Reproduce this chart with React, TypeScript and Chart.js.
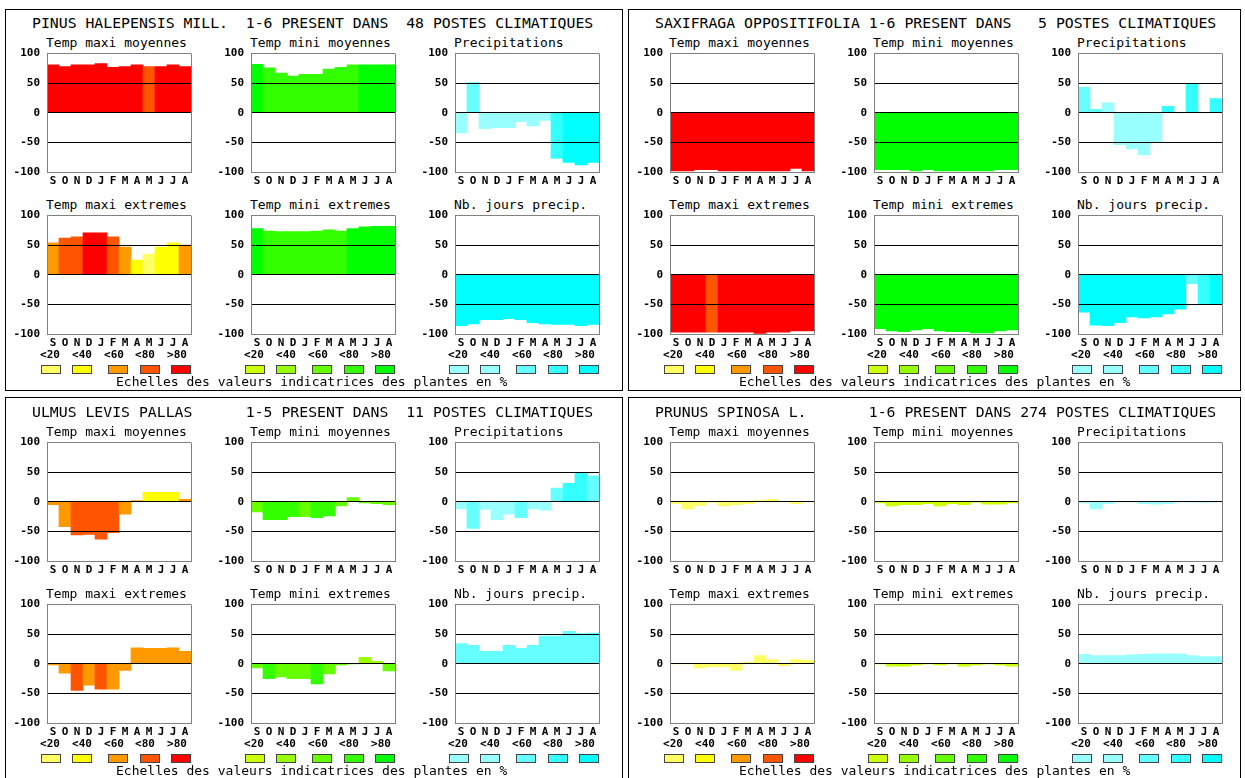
import React, { useEffect, useRef } from 'react';
import { Chart, registerables } from 'chart.js';

Chart.register(...registerables);

// ---------- shared labels / scales ----------
const MONTHS = ['S', 'O', 'N', 'D', 'J', 'F', 'M', 'A', 'M', 'J', 'J', 'A'];
const Y_TICKS = [-100, -50, 0, 50, 100];
const LEVEL_LABELS = ['<20', '<40', '<60', '<80', '>80'];
const RED_SCALE = ['#FFFF66', '#FFFF00', '#FF9900', '#FF5500', '#FF0000'];
const GREEN_SCALE = ['#CCFF00', '#99FF00', '#66FF00', '#33FF00', '#00FF00'];
const CYAN_SCALE = ['#99FFFF', '#99FFFF', '#66FFFF', '#33FFFF', '#00FFFF'];
const CHART_TITLES = [
  'Temp maxi moyennes',
  'Temp mini moyennes',
  'Precipitations',
  'Temp maxi extremes',
  'Temp mini extremes',
  'Nb. jours precip.',
];
const SCALE_CAPTION = 'Echelles des valeurs indicatrices des plantes en %';

// ---------- species ----------
const SPECIES_NAMES = ['PINUS HALEPENSIS MILL.', 'SAXIFRAGA OPPOSITIFOLIA', 'ULMUS LEVIS PALLAS', 'PRUNUS SPINOSA L.'];
const SPECIES_RANGES = ['1-6', '1-6', '1-5', '1-6'];
const SPECIES_STATIONS = [48, 5, 11, 274];

// ---------- PINUS HALEPENSIS ----------
const PINUS_TMAX_MOY = [81, 78, 81, 81, 83, 77, 78, 81, 78, 78, 81, 78];
const PINUS_TMAX_MOY_LVL = [4, 4, 4, 4, 4, 4, 4, 4, 3, 4, 4, 4];
const PINUS_TMIN_MOY = [82, 76, 67, 62, 65, 65, 74, 77, 81, 81, 81, 81];
const PINUS_TMIN_MOY_LVL = [4, 3, 3, 3, 3, 3, 3, 3, 3, 4, 4, 4];
const PINUS_PRECIP = [-34, 51, -27, -25, -25, -15, -22, -13, -77, -84, -88, -84];
const PINUS_PRECIP_LVL = [0, 2, 0, 0, 0, 0, 0, 0, 3, 4, 4, 4];
const PINUS_TMAX_EXT = [54, 62, 64, 71, 71, 64, 47, 25, 35, 47, 54, 50];
const PINUS_TMAX_EXT_LVL = [2, 3, 3, 4, 4, 3, 2, 1, 0, 1, 1, 2];
const PINUS_TMIN_EXT = [78, 74, 73, 73, 73, 74, 76, 74, 78, 81, 82, 82];
const PINUS_TMIN_EXT_LVL = [4, 3, 3, 3, 3, 3, 3, 3, 4, 4, 4, 4];
const PINUS_NB_JOURS = [-86, -83, -76, -76, -74, -76, -81, -83, -84, -84, -86, -84];
const PINUS_NB_JOURS_LVL = [4, 4, 4, 4, 4, 4, 4, 4, 4, 4, 4, 4];

// ---------- SAXIFRAGA OPPOSITIFOLIA ----------
const SAXI_TMAX_MOY = [-98, -98, -96, -96, -98, -98, -98, -98, -98, -98, -94, -98];
const SAXI_TMAX_MOY_LVL = [4, 4, 4, 4, 4, 4, 4, 4, 4, 4, 4, 4];
const SAXI_TMIN_MOY = [-96, -96, -96, -98, -96, -98, -98, -98, -98, -98, -96, -96];
const SAXI_TMIN_MOY_LVL = [4, 4, 4, 4, 4, 4, 4, 4, 4, 4, 4, 4];
const SAXI_PRECIP = [43, 6, 17, -54, -61, -71, -50, 11, 0, 48, 0, 24];
const SAXI_PRECIP_LVL = [2, 2, 0, 0, 0, 0, 0, 3, 0, 3, 0, 3];
const SAXI_TMAX_EXT = [-97, -97, -97, -97, -97, -97, -97, -99, -97, -97, -95, -95];
const SAXI_TMAX_EXT_LVL = [4, 4, 4, 3, 4, 4, 4, 4, 4, 4, 4, 4];
const SAXI_TMIN_EXT = [-91, -95, -96, -93, -91, -95, -96, -96, -98, -98, -95, -93];
const SAXI_TMIN_EXT_LVL = [4, 4, 4, 4, 4, 4, 4, 4, 4, 4, 4, 4];
const SAXI_NB_JOURS = [-63, -85, -86, -81, -71, -73, -71, -66, -58, -15, -50, -49];
const SAXI_NB_JOURS_LVL = [4, 4, 4, 4, 4, 4, 4, 4, 4, 2, 3, 4];

// ---------- ULMUS LEVIS ----------
const ULMUS_TMAX_MOY = [-5, -42, -56, -55, -63, -52, -21, 2, 16, 16, 16, 4];
const ULMUS_TMAX_MOY_LVL = [2, 2, 3, 3, 3, 3, 2, 2, 1, 1, 1, 2];
const ULMUS_TMIN_MOY = [-17, -30, -30, -25, -25, -27, -24, -7, 7, -2, -3, -5];
const ULMUS_TMIN_MOY_LVL = [2, 3, 3, 3, 2, 3, 3, 2, 2, 2, 2, 2];
const ULMUS_PRECIP = [-12, -45, -13, -30, -21, -27, -12, -14, 23, 31, 49, 44];
const ULMUS_PRECIP_LVL = [0, 2, 0, 0, 0, 2, 0, 0, 2, 3, 3, 2];
const ULMUS_TMAX_EXT = [-2, -16, -45, -36, -43, -43, -11, 27, 26, 26, 27, 21];
const ULMUS_TMAX_EXT_LVL = [2, 2, 3, 2, 3, 2, 2, 2, 2, 2, 2, 2];
const ULMUS_TMIN_EXT = [-7, -25, -22, -25, -25, -34, -17, -2, 0, 11, 4, -12];
const ULMUS_TMIN_EXT_LVL = [2, 3, 2, 2, 2, 3, 2, 2, 2, 1, 1, 2];
const ULMUS_NB_JOURS = [34, 31, 21, 21, 31, 26, 31, 47, 47, 55, 51, 52];
const ULMUS_NB_JOURS_LVL = [2, 2, 2, 2, 2, 2, 2, 2, 2, 2, 2, 2];

// ---------- PRUNUS SPINOSA ----------
const PRUNUS_TMAX_MOY = [-3, -12, -6, -1, -7, -5, -3, 2, 4, 0, -3, 0];
const PRUNUS_TMAX_MOY_LVL = [0, 0, 0, 0, 0, 0, 0, 0, 0, 0, 0, 0];
const PRUNUS_TMIN_MOY = [-2, -7, -5, -5, -3, -7, -3, -5, -1, -4, -4, -2];
const PRUNUS_TMIN_MOY_LVL = [0, 0, 0, 0, 0, 0, 0, 0, 0, 0, 0, 0];
const PRUNUS_PRECIP = [-2, -12, -3, 0, 0, -3, -4, -3, 0, 0, -1, 0];
const PRUNUS_PRECIP_LVL = [0, 0, 0, 0, 0, 0, 0, 0, 0, 0, 0, 0];
const PRUNUS_TMAX_EXT = [0, 0, -7, -5, -5, -11, 3, 14, 7, -3, 7, 6];
const PRUNUS_TMAX_EXT_LVL = [0, 0, 0, 0, 0, 0, 0, 0, 0, 0, 0, 0];
const PRUNUS_TMIN_EXT = [0, -4, -4, -2, 0, -2, 0, -4, -2, 0, -2, -4];
const PRUNUS_TMIN_EXT_LVL = [0, 0, 0, 0, 0, 0, 0, 0, 0, 0, 0, 0];
const PRUNUS_NB_JOURS = [16, 14, 14, 14, 15, 16, 17, 17, 17, 14, 12, 12];
const PRUNUS_NB_JOURS_LVL = [0, 0, 0, 0, 0, 0, 0, 0, 0, 0, 0, 0];

const SPECIES_SERIES = [
  [PINUS_TMAX_MOY, PINUS_TMIN_MOY, PINUS_PRECIP, PINUS_TMAX_EXT, PINUS_TMIN_EXT, PINUS_NB_JOURS],
  [SAXI_TMAX_MOY, SAXI_TMIN_MOY, SAXI_PRECIP, SAXI_TMAX_EXT, SAXI_TMIN_EXT, SAXI_NB_JOURS],
  [ULMUS_TMAX_MOY, ULMUS_TMIN_MOY, ULMUS_PRECIP, ULMUS_TMAX_EXT, ULMUS_TMIN_EXT, ULMUS_NB_JOURS],
  [PRUNUS_TMAX_MOY, PRUNUS_TMIN_MOY, PRUNUS_PRECIP, PRUNUS_TMAX_EXT, PRUNUS_TMIN_EXT, PRUNUS_NB_JOURS],
];
const SPECIES_LEVELS = [
  [PINUS_TMAX_MOY_LVL, PINUS_TMIN_MOY_LVL, PINUS_PRECIP_LVL, PINUS_TMAX_EXT_LVL, PINUS_TMIN_EXT_LVL, PINUS_NB_JOURS_LVL],
  [SAXI_TMAX_MOY_LVL, SAXI_TMIN_MOY_LVL, SAXI_PRECIP_LVL, SAXI_TMAX_EXT_LVL, SAXI_TMIN_EXT_LVL, SAXI_NB_JOURS_LVL],
  [ULMUS_TMAX_MOY_LVL, ULMUS_TMIN_MOY_LVL, ULMUS_PRECIP_LVL, ULMUS_TMAX_EXT_LVL, ULMUS_TMIN_EXT_LVL, ULMUS_NB_JOURS_LVL],
  [PRUNUS_TMAX_MOY_LVL, PRUNUS_TMIN_MOY_LVL, PRUNUS_PRECIP_LVL, PRUNUS_TMAX_EXT_LVL, PRUNUS_TMIN_EXT_LVL, PRUNUS_NB_JOURS_LVL],
];
const PALETTES = [RED_SCALE, GREEN_SCALE, CYAN_SCALE];

// ---------- layout ----------
const MONO = '"DejaVu Sans Mono", "Liberation Mono", monospace';
const GREY = '#808080';
const QX = [0, 623];
const QY = [0, 389];
const COL_X = [47, 251, 455];
const ROW_Y = [54, 216];
const PLOT_W = 144;
const PLOT_H = 118;
const PAD_L = 40;
const PAD_T = 8;
const PAD_R = 4;
const PAD_B = 18;
const LABEL_DX = [3, 35, 67, 98, 130];
const BOX_DX = [4, 35, 71, 103, 134];

function MiniChart(props: { left: number; top: number; values: number[]; levels: number[]; palette: string[] }) {
  const ref = useRef<HTMLCanvasElement | null>(null);
  const { left, top, values, levels, palette } = props;
  const w0 = PAD_L + PLOT_W + PAD_R;
  const h0 = PAD_T + PLOT_H + PAD_B;
  useEffect(() => {
    const canvas = ref.current;
    if (!canvas) return;
    const chart = new Chart(canvas, {
      type: 'bar',
      data: {
        labels: MONTHS,
        datasets: [
          {
            data: values,
            backgroundColor: levels.map((l) => palette[l]),
            borderWidth: 0,
            barPercentage: 1,
            categoryPercentage: 1,
          },
        ],
      },
      options: {
        animation: false,
        responsive: false,
        maintainAspectRatio: false,
        events: [],
        layout: { padding: { top: PAD_T, right: PAD_R, left: 0, bottom: 0 } },
        plugins: {
          legend: { display: false },
          title: { display: false },
          tooltip: { enabled: false },
        },
        scales: {
          x: {
            grid: {
              display: true,
              drawTicks: false,
              offset: true,
              z: 1,
              color: (c: any) => (c.type !== 'tick' || c.index === 0 ? GREY : 'rgba(0,0,0,0)'),
            },
            border: { display: true, color: GREY, z: 1 } as any,
            ticks: {
              autoSkip: false,
              maxRotation: 0,
              minRotation: 0,
              padding: 3,
              color: '#000',
              font: { family: MONO, size: 11, weight: 'bold' },
            },
            afterFit: (s: any) => {
              s.height = PAD_B;
            },
          },
          y: {
            min: -100,
            max: 100,
            afterBuildTicks: (s: any) => {
              s.ticks = Y_TICKS.map((v) => ({ value: v }));
            },
            grid: {
              drawTicks: false,
              z: 1,
              color: (c: any) => (c.tick && Math.abs(c.tick.value) === 100 ? GREY : '#000'),
            },
            border: { display: true, color: GREY, z: 1 } as any,
            ticks: {
              padding: 7,
              color: '#000',
              font: { family: MONO, size: 11, weight: 'bold' },
            },
            afterFit: (s: any) => {
              s.width = PAD_L;
            },
          },
        },
      } as any,
    });
    // make the plot area exactly PLOT_W x PLOT_H and place it at (left, top)
    const ca = chart.chartArea;
    const dh = PLOT_H - Math.round(ca.bottom - ca.top);
    const dw = PLOT_W - Math.round(ca.right - ca.left);
    if (dh !== 0 || dw !== 0) {
      chart.resize(w0 + dw, h0 + dh);
    }
    const ca2 = chart.chartArea;
    canvas.style.left = left - Math.round(ca2.left) + 'px';
    canvas.style.top = top - Math.round(ca2.top) + 'px';
    return () => chart.destroy();
  }, []);
  return (
    <canvas
      ref={ref}
      width={w0}
      height={h0}
      style={{ position: 'absolute', left: left - PAD_L, top: top - PAD_T, width: w0, height: h0 }}
    />
  );
}

function speciesTitle(i: number) {
  return (
    SPECIES_NAMES[i].padEnd(24, ' ') +
    SPECIES_RANGES[i] +
    ' PRESENT DANS ' +
    String(SPECIES_STATIONS[i]).padStart(3, ' ') +
    ' POSTES CLIMATIQUES'
  );
}

function Quadrant({ qi }: { qi: number }) {
  const qx = QX[qi % 2];
  const qy = QY[Math.floor(qi / 2)];
  const boxTop = qi < 2 ? 9 : 397;
  const boxLeft = qi % 2 === 0 ? 5 : 628;
  const boxWidth = qi % 2 === 0 ? 618 : 613;
  const items: React.ReactNode[] = [];
  items.push(
    <div
      key="box"
      style={{
        position: 'absolute',
        left: boxLeft,
        top: boxTop,
        width: boxWidth,
        height: 382,
        border: '1px solid #000',
        boxSizing: 'border-box',
      }}
    />
  );
  items.push(
    <div
      key="title"
      style={{
        position: 'absolute',
        left: 32 + qx,
        top: 13 + qy,
        height: 20,
        lineHeight: '20px',
        fontFamily: MONO,
        fontSize: 14.8,
        whiteSpace: 'pre',
        color: '#000',
      }}
    >
      {speciesTitle(qi)}
    </div>
  );
  for (let k = 0; k < 6; k++) {
    const col = k % 3;
    const row = Math.floor(k / 3);
    const pl = COL_X[col] + qx;
    const pt = ROW_Y[row] + qy;
    const palette = PALETTES[col];
    items.push(
      <div
        key={'t' + k}
        style={{
          position: 'absolute',
          left: pl - 1,
          top: pt - 19,
          height: 16,
          lineHeight: '16px',
          fontFamily: MONO,
          fontSize: 13,
          whiteSpace: 'pre',
          color: '#000',
        }}
      >
        {CHART_TITLES[k]}
      </div>
    );
    items.push(
      <MiniChart
        key={'c' + k}
        left={pl}
        top={pt}
        values={SPECIES_SERIES[qi][k]}
        levels={SPECIES_LEVELS[qi][k]}
        palette={palette}
      />
    );
    if (row === 1) {
      for (let j = 0; j < 5; j++) {
        items.push(
          <div
            key={'ll' + k + '_' + j}
            style={{
              position: 'absolute',
              left: pl + LABEL_DX[j] - 15,
              top: pt + 132,
              width: 30,
              height: 14,
              lineHeight: '14px',
              textAlign: 'center',
              fontFamily: MONO,
              fontSize: 11,
              fontWeight: 'bold',
              color: '#000',
            }}
          >
            {LEVEL_LABELS[j]}
          </div>
        );
        items.push(
          <div
            key={'lb' + k + '_' + j}
            style={{
              position: 'absolute',
              left: pl + BOX_DX[j] - 10,
              top: pt + 149,
              width: 20,
              height: 9,
              boxSizing: 'border-box',
              border: '1px solid #444',
              background: palette[j],
            }}
          />
        );
      }
    }
  }
  items.push(
    <div
      key="caption"
      style={{
        position: 'absolute',
        left: 116 + qx,
        top: 374 + qy,
        height: 16,
        lineHeight: '16px',
        fontFamily: MONO,
        fontSize: 13,
        whiteSpace: 'pre',
        color: '#000',
      }}
    >
      {SCALE_CAPTION}
    </div>
  );
  return <>{items}</>;
}

export default function App() {
  return (
    <div
      style={{
        position: 'fixed',
        left: 0,
        top: 0,
        width: 1245,
        height: 778,
        overflow: 'hidden',
        background: '#fff',
      }}
    >
      {[0, 1, 2, 3].map((qi) => (
        <Quadrant key={qi} qi={qi} />
      ))}
    </div>
  );
}
